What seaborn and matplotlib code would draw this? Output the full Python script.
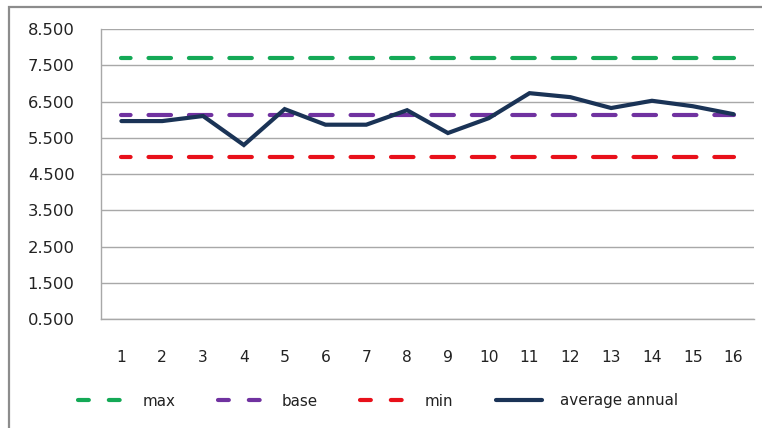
import matplotlib
matplotlib.use("Agg")
import matplotlib.pyplot as plt
from matplotlib.lines import Line2D
from matplotlib.patches import Rectangle
import numpy as np
import pandas as pd
import seaborn as sns

# Yearly index and series values
years = list(range(1, 17))
max_level = [7.70] * 16
base_level = [6.12] * 16
min_level = [4.98] * 16
average_annual = [5.96, 5.96, 6.10, 5.30, 6.29, 5.86, 5.86, 6.26,
                  5.63, 6.04, 6.73, 6.62, 6.32, 6.52, 6.37, 6.15]

y_ticks = [0.5, 1.5, 2.5, 3.5, 4.5, 5.5, 6.5, 7.5, 8.5]
y_tick_labels = ["0.500", "1.500", "2.500", "3.500", "4.500",
                 "5.500", "6.500", "7.500", "8.500"]

series_names = ["max", "base", "min", "average annual"]
series_values = [max_level, base_level, min_level, average_annual]
series_colors = ["#14A956", "#7032A0", "#E8101A", "#1A3356"]

sns.set_theme(style="white")
plt.rcParams["font.family"] = ["DejaVu Sans"]

DPI = 100
fig = plt.figure(figsize=(7.62, 4.28), dpi=DPI)
ax = fig.add_axes([101 / 762, 1 - 319 / 428, (754 - 101) / 762, (319 - 29) / 428])

lw = 3.0
dash_on, dash_off, dash_offset = 5.4, 4.3, 3.1

for name, vals, col in zip(series_names, series_values, series_colors):
    df = pd.DataFrame({"year": years, "value": vals})
    sns.lineplot(data=df, x="year", y="value", ax=ax, color=col,
                 linewidth=lw, legend=False)
    line = ax.lines[-1]
    if name != "average annual":
        line.set_linestyle((dash_offset, (dash_on, dash_off)))
        line.set_dash_capstyle("round")
    else:
        line.set_solid_capstyle("round")
        line.set_solid_joinstyle("miter")
        line.set_zorder(5)

ax.set_xlim(0.5, 16.5)
ax.set_ylim(0.5, 8.5)
ax.set_xticks(years)
ax.set_xticklabels([str(y) for y in years], fontsize=11.2, color="#222222")
ax.set_yticks(y_ticks)
ax.set_yticklabels(y_tick_labels, fontsize=11.8, color="#222222")
ax.tick_params(axis="x", length=0, pad=22)
ax.tick_params(axis="y", length=0, pad=19)
ax.set_xlabel("")
ax.set_ylabel("")

ax.grid(axis="y", color="#A8A8A8", linewidth=1.0)
ax.grid(axis="x", visible=False)
for side in ["top", "right"]:
    ax.spines[side].set_visible(False)
for side in ["left", "bottom"]:
    ax.spines[side].set_color("#A8A8A8")
    ax.spines[side].set_linewidth(1.0)
ax.set_axisbelow(True)

# Legend handles
handles = []
for name, col in zip(series_names, series_colors):
    if name != "average annual":
        h = Line2D([], [], color=col, linewidth=lw,
                   linestyle=(0, (2.6, 4.8)), dash_capstyle="round")
    else:
        h = Line2D([], [], color=col, linewidth=lw, solid_capstyle="round")
    handles.append(h)

fig.legend(handles, series_names, loc="center", bbox_to_anchor=(378 / 762, 1 - 401 / 428),
           ncol=4, frameon=False, fontsize=10.9, handlelength=3.05,
           handletextpad=1.2, columnspacing=2.8, labelcolor="#222222")

# Outer chart frame
fig.patches.append(Rectangle((9 / 762, -0.1), 1.2, 1 - 7 / 428 + 0.1,
                             transform=fig.transFigure, fill=False,
                             edgecolor="#8C8C8C", linewidth=1.6))

fig.savefig("out.png", dpi=DPI)
